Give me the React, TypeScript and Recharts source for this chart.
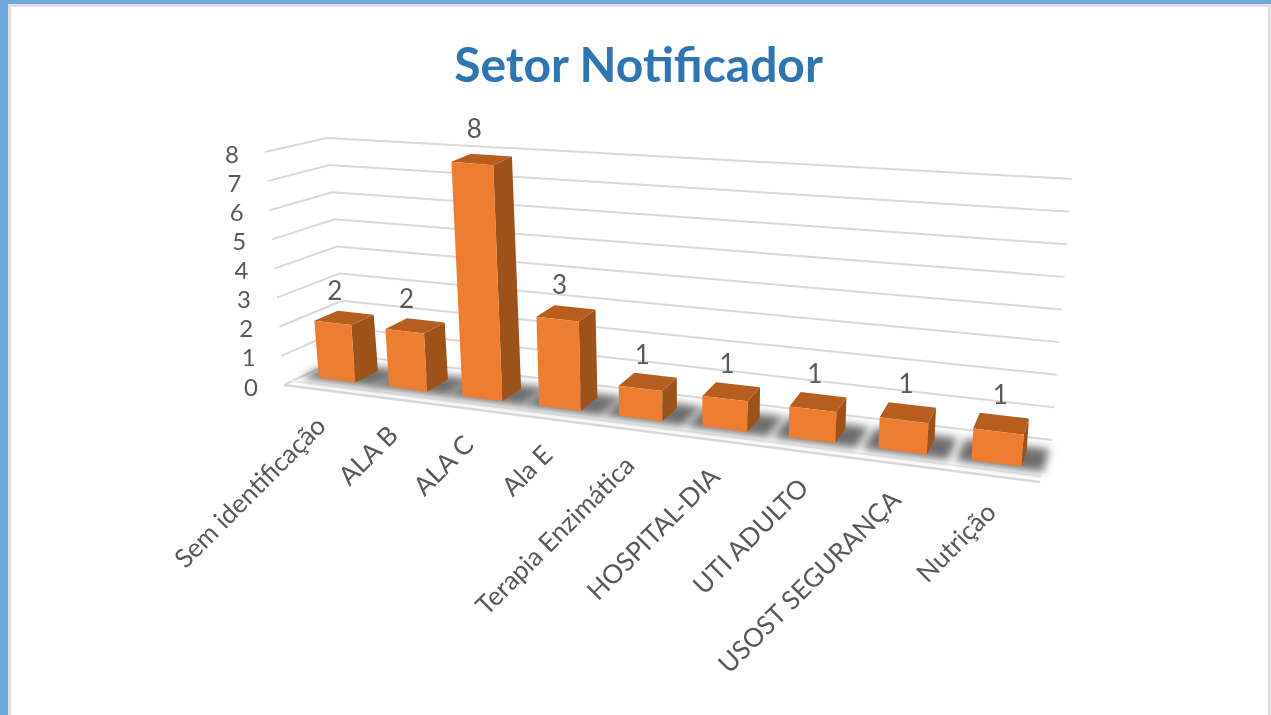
import { Bar, BarChart, CartesianGrid, LabelList, XAxis, YAxis } from "recharts";

const categories = [
  "Sem identificação",
  "ALA B",
  "ALA C",
  "Ala E",
  "Terapia Enzimática",
  "HOSPITAL-DIA",
  "UTI ADULTO",
  "USOST SEGURANÇA",
  "Nutrição",
];
const counts = [2, 2, 8, 3, 1, 1, 1, 1, 1];
const valueTicks = [0, 1, 2, 3, 4, 5, 6, 7, 8];

const data = categories.map((name, i) => ({ name, count: counts[i] }));

const FONT = "Lato, Carlito, sans-serif";
const TEXT_COLOR = "#595959";
const GRID_COLOR = "#d9d9d9";

// flat plot box handed to recharts, project() turns it into the 3D look
const PLOT_LEFT = 290;
const PLOT_TOP = 100;
const STEP = 80;
const UNIT = 30;
const PLOT_BOTTOM = PLOT_TOP + UNIT * 8;
const GAP = 0.24;

type Pt = [number, number];

const lerp = (a: Pt, b: Pt, k: number): Pt => [
  a[0] + (b[0] - a[0]) * k,
  a[1] + (b[1] - a[1]) * k,
];

// corners of the 3D box at value 0 and at value 8
const frontLeft = (v: number) => lerp([284, 385], [265, 152], v / 8);
const backLeft = (v: number) => lerp([347, 355], [327, 138], v / 8);
const backRight = (v: number) => lerp([1052, 440], [1072, 179], v / 8);
const frontRight = (v: number) => lerp([1040, 482], [1058, 227], v / 8);

// t runs along the floor, v is the value, d is the depth (0 front, 1 back)
const project = (t: number, v: number, d: number): Pt =>
  lerp(
    lerp(frontLeft(v), frontRight(v), t),
    lerp(backLeft(v), backRight(v), t),
    d,
  );

// perspective: categories further right look wider
const warp = (px: number) => {
  const u = (px - PLOT_LEFT) / STEP - GAP;
  return 0.0217 + 0.0925 * u + 0.0022 * u * u;
};

const pts = (list: Pt[]) => list.map((p) => p.join(",")).join(" ");

const Bar3D = (props: any) => {
  const { x, width, payload } = props;
  const v = payload.count;
  const t1 = warp(x);
  const t2 = warp(x + width);
  const df = 0.3;
  const db = 0.68;
  return (
    <g>
      <polygon
        points={pts([
          project(t2, 0, df),
          project(t2, 0, db),
          project(t2, v, db),
          project(t2, v, df),
        ])}
        fill="#9c5219"
      />
      <polygon
        points={pts([
          project(t1, v, df),
          project(t2, v, df),
          project(t2, v, db),
          project(t1, v, db),
        ])}
        fill="#b75e1e"
      />
      <polygon
        points={pts([
          project(t1, 0, df),
          project(t2, 0, df),
          project(t2, v, df),
          project(t1, v, df),
        ])}
        fill="#ed7d31"
      />
    </g>
  );
};

const FloorShadow = (props: any) => {
  const { x, width } = props;
  const t1 = warp(x) - 0.02;
  const t2 = warp(x + width) + 0.03;
  return (
    <polygon
      points={pts([
        project(t1, 0, 0.24),
        project(t2, 0, 0.24),
        project(t2, 0, 0.78),
        project(t1, 0, 0.78),
      ])}
      fill="#6e6e6e"
      style={{ filter: "blur(4px)" }}
    />
  );
};

const BarValue = (props: any) => {
  const { x, width, value } = props;
  const front = project(warp(x + width / 2), value, 0.3);
  const back = project(warp(x + width / 2), value, 0.68);
  return (
    <text
      x={front[0] + 2}
      y={back[1] - 21 - value * 0.7}
      textAnchor="middle"
      dominantBaseline="central"
      fontSize={26}
      fontFamily={FONT}
      fill={TEXT_COLOR}
    >
      {value}
    </text>
  );
};

const CategoryTick = (props: any) => {
  const { x, payload } = props;
  const t = warp(x);
  const p = project(t, 0, 0);
  const ax = p[0] + 9 - t * 3;
  const ay = p[1] + 38;
  return (
    <text
      x={ax}
      y={ay}
      textAnchor="end"
      fontSize={26}
      fontFamily={FONT}
      fill={TEXT_COLOR}
      transform={`rotate(-45 ${ax} ${ay})`}
    >
      {payload.value}
    </text>
  );
};

const ValueTick = (props: any) => {
  const { payload } = props;
  const p = frontLeft(payload.value);
  return (
    <text
      x={p[0] - 33}
      y={p[1] + 1}
      textAnchor="middle"
      dominantBaseline="central"
      fontSize={24}
      fontFamily={FONT}
      fill={TEXT_COLOR}
    >
      {payload.value}
    </text>
  );
};

const GridLine = (props: any) => {
  const v = Math.round((PLOT_BOTTOM - props.y1) / UNIT);
  return (
    <g key={props.key ?? v} fill="none" stroke={GRID_COLOR} strokeWidth={2}>
      <polyline
        points={pts([project(0, v, 0), project(0, v, 1), project(1, v, 1)])}
      />
      {v === 0 && (
        <>
          <line
            x1={project(0, 0, 0)[0]}
            y1={project(0, 0, 0)[1]}
            x2={project(1, 0, 0)[0]}
            y2={project(1, 0, 0)[1]}
            strokeWidth={2.5}
          />
          <line
            x1={project(0, 0, 0.13)[0]}
            y1={project(0, 0, 0.13)[1]}
            x2={project(1, 0, 0.13)[0]}
            y2={project(1, 0, 0.13)[1]}
            stroke="#eeeeee"
          />
        </>
      )}
    </g>
  );
};

export default function App() {
  return (
    <div
      style={{
        position: "absolute",
        left: 0,
        top: 0,
        width: 1271,
        height: 715,
        overflow: "hidden",
        background: "#6fa9dc",
      }}
    >
      <div
        style={{
          position: "absolute",
          left: 8,
          top: 4,
          width: 1263,
          height: 711,
          boxSizing: "border-box",
          background: "#fff",
          borderLeft: "3px solid #dedede",
          borderTop: "3px solid #dedede",
          borderRight: "3px solid #dedede",
        }}
      />
      <div
        style={{
          position: "absolute",
          left: 0,
          top: 35,
          width: 1277,
          textAlign: "center",
          fontFamily: FONT,
          fontWeight: 700,
          fontSize: 48,
          lineHeight: "58px",
          color: "#2e75b6",
          filter: "blur(0.5px)",
        }}
      >
        Setor Notificador
      </div>
      <div
        style={{
          position: "absolute",
          left: 0,
          top: 0,
          filter: "blur(0.6px)",
        }}
      >
        <BarChart
          width={1271}
          height={715}
          data={data}
          barCategoryGap={`${GAP * 100}%`}
          margin={{
            top: PLOT_TOP,
            right: 1271 - PLOT_LEFT - STEP * categories.length,
            left: PLOT_LEFT - 60,
            bottom: 715 - PLOT_BOTTOM - 60,
          }}
        >
          <CartesianGrid
            vertical={false}
            horizontal={GridLine as any}
            syncWithTicks
          />
          <XAxis
            dataKey="name"
            interval={0}
            height={60}
            axisLine={false}
            tickLine={false}
            tick={CategoryTick as any}
          />
          <YAxis
            width={60}
            domain={[0, 8]}
            ticks={valueTicks}
            interval={0}
            axisLine={false}
            tickLine={false}
            tick={ValueTick as any}
          />
          <Bar
            dataKey="count"
            isAnimationActive={false}
            background={FloorShadow as any}
            shape={Bar3D as any}
          >
            <LabelList dataKey="count" content={BarValue as any} />
          </Bar>
        </BarChart>
      </div>
    </div>
  );
}
